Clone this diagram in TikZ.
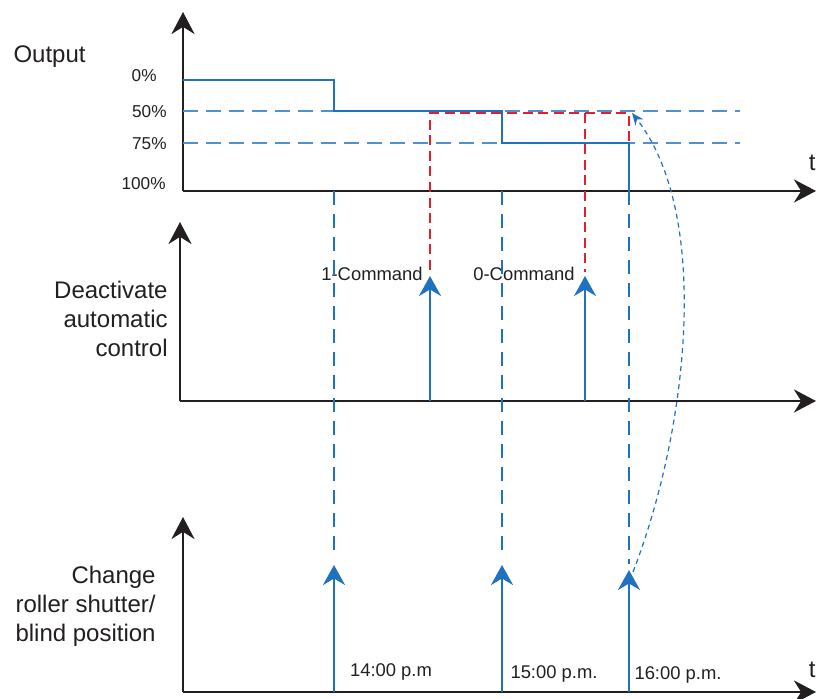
\documentclass[tikz,border=0pt]{standalone}
\usepackage{fontspec}
\setmainfont{Liberation Sans}
\usetikzlibrary{arrows.meta, positioning}
\definecolor{ctrlblue}{RGB}{31,114,189}
\definecolor{guideblue}{RGB}{80,145,206}
\definecolor{ctrlred}{RGB}{228,30,42}
\definecolor{axisgray}{RGB}{35,31,32}

\begin{document}
\begin{tikzpicture}[
    x=0.5pt, y=-0.5pt,
    font=\fontsize{9.2}{11}\selectfont,
    text=axisgray,
    % Styles for the timing chart
    axis/.style={-{Stealth[length=11pt, width=11.5pt]}, line width=1.3pt, draw=axisgray},
    signal/.style={line width=1.15pt, draw=ctrlblue},
    trigger/.style={-{Stealth[length=10pt, width=11pt]}, line width=1.15pt, draw=ctrlblue},
    link/.style={line width=1.15pt, draw=ctrlblue, dash pattern=on 7pt off 4.5pt},
    guide/.style={line width=0.7pt, draw=guideblue, dash pattern=on 7.5pt off 4pt},
    override/.style={line width=1.15pt, draw=ctrlred, dash pattern=on 5pt off 2.8pt},
    resume/.style={-{Stealth[length=6pt, width=5pt]}, line width=0.6pt, draw=ctrlblue, dash pattern=on 2.5pt off 2pt},
    rowlabel/.style={font=\fontsize{12}{14.5}\selectfont, align=right, anchor=east, inner sep=0pt},
    level/.style={font=\fontsize{8.6}{10}\selectfont, anchor=east, inner sep=0pt},
    event/.style={inner sep=0pt},
    tlabel/.style={font=\fontsize{12}{14}\selectfont, anchor=east, inner sep=0pt}
]
\useasboundingbox (0,0) rectangle (816,699);

% ----------------------------------------------------
% Axes
% ----------------------------------------------------
\coordinate (o1) at (183,191);
\coordinate (o2) at (180,401);
\coordinate (o3) at (183,692);

\draw[axis] (o1) -- (183,12);
\draw[axis] (o1) -- (816,191);
\draw[axis] (o2) -- (180,222);
\draw[axis] (o2) -- (816,401);
\draw[axis] (o3) -- (183,517);
\draw[axis] (o3) -- (816,692);

\node[tlabel] (t1) at (816,163) {t};
\node[tlabel] (t3) at (816,670) {t};

% Row labels
\node[rowlabel] (lout) at (86,57) {Output};
\node[rowlabel] (lctrl) at (168,319) {Deactivate\\automatic\\control};
\node[rowlabel] (lpos) at (156,606) {Change\\roller shutter/\\blind position};

% ----------------------------------------------------
% OUTPUT
% ----------------------------------------------------
\coordinate (l0) at (183,80);
\coordinate (l50) at (183,111);
\coordinate (l75) at (183,143);
\coordinate (r50) at (183,113);
\coordinate (gend) at (740,0);

\node[level] (p0) at (157,76) {0\%};
\node[level] (p50) at (167,112) {50\%};
\node[level] (p75) at (167,144) {75\%};
\node[level] (p100) at (166,184) {100\%};

\draw[guide] (l50) -- (l50 -| gend);
\draw[guide] (l75) -- (l75 -| gend);

% Time marks and commands
\coordinate (t14) at (334,692);
\coordinate (t15) at (502,692);
\coordinate (t16) at (629,692);
\coordinate (c1) at (430,401);
\coordinate (c0) at (585,401);

% Position steps
\draw[signal] (l0) -- (l0 -| t14) -- (l50 -| t14) -- (l50 -| t15)
    -- (l75 -| t15) -- (l75 -| t16) -- (o1 -| t16);

% Manual override (red)
\draw[override] (430,270) -- (r50 -| c1) -- (r50 -| t16) -- (l75 -| t16);
\draw[override] (r50 -| c0) -- (585,272);

% ----------------------------------------------------
% DEACTIVATE AUTOMATIC CONTROL
% ----------------------------------------------------
\draw[trigger] (c1) -- (430,276);
\draw[trigger] (c0) -- (585,276);
\node[event] (cmd1) at (372,274) {1-Command};
\node[event] (cmd0) at (524,274) {0-Command};

% ----------------------------------------------------
% CHANGE ROLLER SHUTTER / BLIND POSITION
% ----------------------------------------------------
\coordinate (e14) at (334,565);
\coordinate (e15) at (502,565);
\coordinate (e16) at (629,570);

\draw[link, shorten >=4pt] (o1 -| t14) -- (e14);
\draw[link, shorten >=4pt] (o1 -| t15) -- (e15);
\draw[link, shorten >=3pt] (o1 -| t16) -- (e16);

\draw[trigger] (t14) -- (e14);
\draw[trigger] (t15) -- (e15);
\draw[trigger] (t16) -- (e16);

\node[event] (h14) at (391,672) {14:00 p.m};
\node[event] (h15) at (554,674) {15:00 p.m.};
\node[event] (h16) at (678,675) {16:00 p.m.};

% Return to automatic position
\draw[resume] (633,572) .. controls (688,430) and (712,215) .. (632,113);

\end{tikzpicture}
\end{document}
